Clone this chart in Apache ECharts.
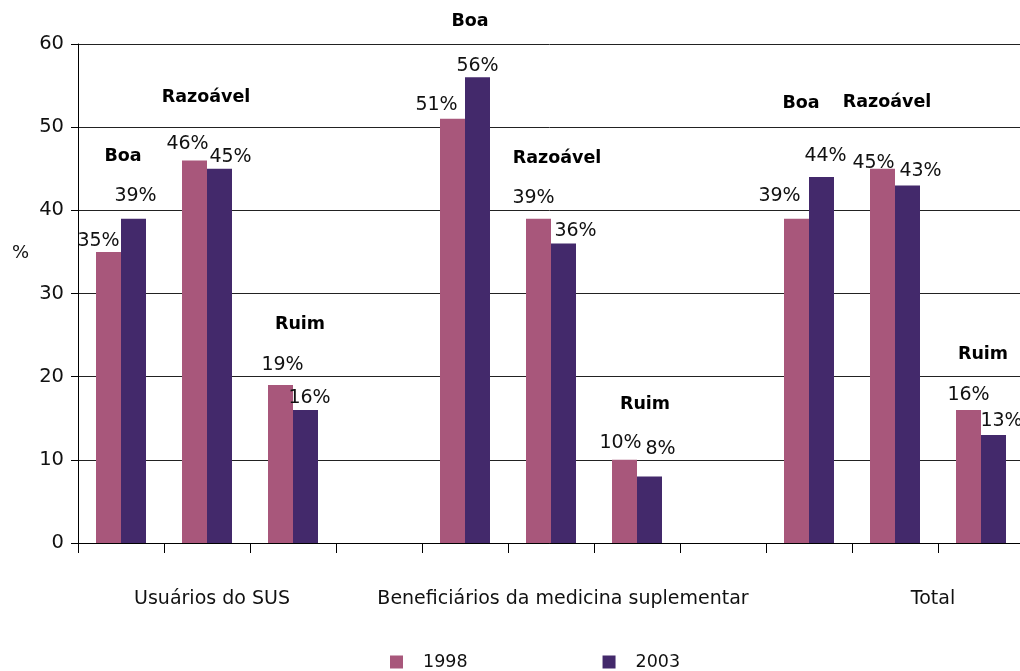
<!DOCTYPE html>
<html>
<head>
<meta charset="utf-8">
<script src="https://cdn.jsdelivr.net/npm/echarts@6/dist/echarts.min.js"></script>
<style>
  html, body { margin: 0; padding: 0; background: #ffffff; }
  #chart { width: 1020px; height: 671px; }
</style>
</head>
<body>
<div id="chart"></div>
<script>
// Avaliação dos serviços de saúde, 1998 e 2003 (%)
const groups = ['Usuários do SUS', 'Beneficiários da medicina suplementar', 'Total'];
const ratings = ['Boa', 'Razoável', 'Ruim'];
const years = ['1998', '2003'];
const values1998 = [35, 46, 19, 51, 39, 10, 39, 45, 16];
const values2003 = [39, 45, 16, 56, 36, 8, 44, 43, 13];
const yTicks = [0, 10, 20, 30, 40, 50, 60];
const yUnit = '%';

// Hand-tuned label nudges [dx, dy] in pixels (layout only)
const nudge1998 = [[-10, -12], [-7, -17], [2, -21], [-16, -15], [-5, -22], [-4, -18], [-17, -24], [-9, -7], [0, -16]];
const nudge2003 = [[2, -24], [11, -13], [4, -13], [0, -12], [12, -14], [11, -28], [4, -22], [13, -15], [8, -15]];
const nudgeRating = [[2, -62], [-1, -63], [7, -61], [5, -56], [6, -60], [8, -55], [-8, -74], [-8, -66], [2, -55]];
const groupLabelShift = [5, 12, 38];

const C1998 = '#a8577b';
const C2003 = '#43296b';
const FONT = 'DejaVu Sans';
const TXT = '#111111';
const BASE_LIFT = 10.5; // distance from bar top to the centre of a top label

// Slots: three ratings per group, an empty slot between groups
const slots = [];
groups.forEach((g, gi) => {
  ratings.forEach((r, ri) => slots.push({ key: g + ' · ' + r, g: gi, r: ri, k: gi * 3 + ri }));
  if (gi < groups.length - 1) slots.push({ key: 'sep' + gi, g: gi, r: -1, k: -1 });
});

function barData(vals, nudges) {
  return slots.map(s => {
    if (s.k < 0) return '-';
    const [dx, dy] = nudges[s.k];
    return { value: vals[s.k], label: { offset: [dx, dy + BASE_LIFT] } };
  });
}

const ratingData = slots.map(s => {
  if (s.k < 0) return '-';
  const top = Math.max(values1998[s.k], values2003[s.k]);
  return { value: top, name: ratings[s.r], label: { offset: nudgeRating[s.k] } };
});

const groupRich = {};
groups.forEach((g, gi) => {
  groupRich['g' + gi] = {
    fontFamily: FONT, fontSize: 19, color: TXT,
    padding: [0, 0, 0, groupLabelShift[gi] * 2]
  };
});

const chart = echarts.init(document.getElementById('chart'), null, { renderer: 'canvas' });

chart.setOption({
  animation: false,
  backgroundColor: '#ffffff',
  textStyle: { fontFamily: FONT, color: TXT },
  grid: { left: 78, right: -4, top: 44, bottom: 128, containLabel: false, outerBoundsMode: 'none' },
  legend: {
    data: years,
    left: 390,
    top: 653,
    padding: 0,
    icon: 'rect',
    itemWidth: 13,
    itemHeight: 13,
    itemGap: 135,
    textStyle: { fontFamily: FONT, fontSize: 17.5, color: TXT, padding: [0, 0, 0, 15] }
  },
  graphic: [{
    type: 'text',
    left: 12,
    top: 244,
    silent: true,
    style: { text: yUnit, fontFamily: FONT, fontSize: 18, fill: TXT }
  }],
  xAxis: {
    type: 'category',
    data: slots.map(s => s.key),
    axisLine: { show: true, lineStyle: { color: '#000000', width: 1 } },
    axisTick: { show: true, interval: 0, length: 10, lineStyle: { color: '#000000' } },
    axisLabel: {
      interval: 0,
      margin: 47,
      rich: groupRich,
      formatter: (val, idx) => {
        const s = slots[idx];
        return (s && s.r === 1) ? '{g' + s.g + '|' + groups[s.g] + '}' : '';
      }
    },
    splitLine: { show: false }
  },
  yAxis: {
    type: 'value',
    min: yTicks[0],
    max: yTicks[yTicks.length - 1],
    interval: yTicks[1] - yTicks[0],
    axisLine: { show: true, lineStyle: { color: '#000000', width: 1 } },
    axisTick: { show: true, length: 7, lineStyle: { color: '#000000' } },
    axisLabel: { margin: 14, fontFamily: FONT, fontSize: 19.5, color: TXT },
    splitLine: { show: true, lineStyle: { color: '#222222', width: 1 } }
  },
  series: [
    {
      name: years[0],
      type: 'bar',
      barWidth: 25,
      barGap: '0%',
      itemStyle: { color: C1998 },
      label: {
        show: true, position: 'top', distance: 0,
        fontFamily: FONT, fontSize: 19, color: TXT,
        formatter: '{c}%'
      },
      data: barData(values1998, nudge1998)
    },
    {
      name: years[1],
      type: 'bar',
      barWidth: 25,
      itemStyle: { color: C2003 },
      label: {
        show: true, position: 'top', distance: 0,
        fontFamily: FONT, fontSize: 19, color: TXT,
        formatter: '{c}%'
      },
      data: barData(values2003, nudge2003)
    },
    {
      name: 'avaliação',
      type: 'scatter',
      symbolSize: 0,
      silent: true,
      z: 5,
      itemStyle: { opacity: 1 },
      label: {
        show: true, position: 'inside', opacity: 1,
        fontFamily: FONT, fontSize: 17.5, fontWeight: 'bold', color: '#000000',
        formatter: p => p.name
      },
      data: ratingData
    }
  ]
});
</script>
</body>
</html>
